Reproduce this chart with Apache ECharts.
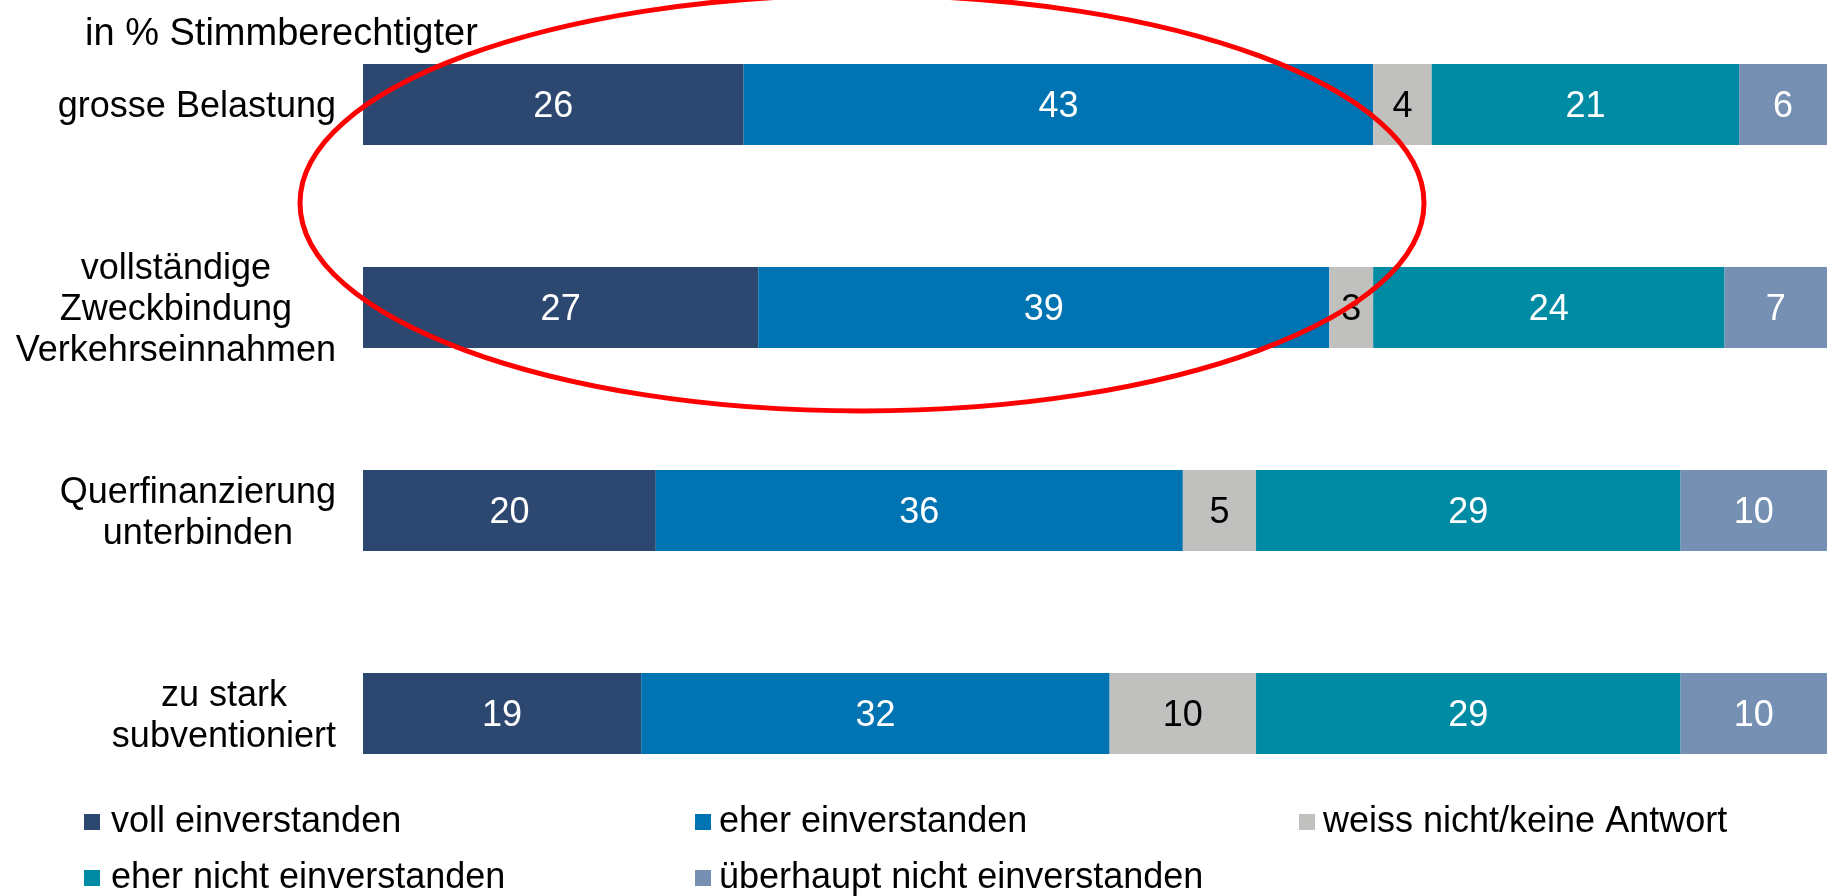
<!DOCTYPE html>
<html>
<head>
<meta charset="utf-8">
<script src="https://cdn.jsdelivr.net/npm/echarts@6/dist/echarts.min.js"></script>
<style>
  html, body { margin: 0; padding: 0; background: #fff; }
  #chart { width: 1827px; height: 896px; }
</style>
</head>
<body>
<div id="chart"></div>
<script>
  // Kategorien (von oben nach unten)
  const categories = [
    'grosse Belastung',
    'vollständige\nZweckbindung\nVerkehrseinnahmen',
    'Querfinanzierung\nunterbinden',
    'zu stark\nsubventioniert'
  ];
  const seriesNames = [
    'voll einverstanden',
    'eher einverstanden',
    'weiss nicht/keine Antwort',
    'eher nicht einverstanden',
    'überhaupt nicht einverstanden'
  ];
  const vollEinverstanden = [26, 27, 20, 19];
  const eherEinverstanden = [43, 39, 36, 32];
  const weissNicht = [4, 3, 5, 10];
  const eherNicht = [21, 24, 29, 29];
  const ueberhauptNicht = [6, 7, 10, 10];

  const colors = ['#2c4770', '#0074b2', '#c0c0bf', '#008ba5', '#7690b4'];
  const labelColors = ['#fff', '#fff', '#000', '#fff', '#fff'];

  // Legende: Spaltenposition je Eintrag
  const legendPos = [
    {left: 84, top: 804}, {left: 695, top: 804}, {left: 1299, top: 804},
    {left: 84, top: 860}, {left: 695, top: 860}
  ];

  // rote Markierung (Ellipse)
  const ellipse = {cx: 862, cy: 203, rx: 562, ry: 208};

  const font = '"Liberation Sans", Arial, sans-serif';
  const values = [vollEinverstanden, eherEinverstanden, weissNicht, eherNicht, ueberhauptNicht];

  const chart = echarts.init(document.getElementById('chart'));
  chart.setOption({
    animation: false,
    backgroundColor: '#fff',
    textStyle: {fontFamily: font},
    title: {
      text: 'in % Stimmberechtigter',
      left: 80,
      top: 11,
      textStyle: {fontSize: 38, fontWeight: 'normal', color: '#000', fontFamily: font}
    },
    legend: legendPos.map((p, i) => ({
      data: [seriesNames[i]],
      left: p.left,
      top: p.top,
      icon: 'rect',
      itemWidth: 16,
      itemHeight: 16,
      padding: 0,
      textStyle: {fontSize: 36, color: '#000', fontFamily: font, padding: [0, 0, 0, i % 3 === 0 ? 6 : 3]}
    })),
    grid: {left: 363, right: 0, top: 3, bottom: 81},
    xAxis: {
      type: 'value',
      min: 0,
      max: 100,
      show: false
    },
    yAxis: {
      type: 'category',
      inverse: true,
      data: categories,
      axisLine: {show: false},
      axisTick: {show: false},
      axisLabel: {
        margin: 27,
        align: 'right',
        padding: [6, 0, 0, 0],
        formatter: v => v.split('\n').map(s => '{c|' + s + '}').join('\n'),
        rich: {
          c: {align: 'center', fontSize: 36, lineHeight: 41, color: '#000', fontFamily: font}
        }
      }
    },
    series: values.map((d, i) => ({
      name: seriesNames[i],
      type: 'bar',
      stack: 'total',
      barWidth: 81,
      data: d,
      itemStyle: {color: colors[i]},
      label: {
        show: true,
        position: 'inside',
        offset: [0, 3],
        fontSize: 36,
        color: labelColors[i],
        fontFamily: font
      }
    })),
    graphic: [{
      type: 'ellipse',
      z: 100,
      shape: ellipse,
      style: {fill: 'none', stroke: '#ff0000', lineWidth: 5}
    }]
  });
</script>
</body>
</html>
